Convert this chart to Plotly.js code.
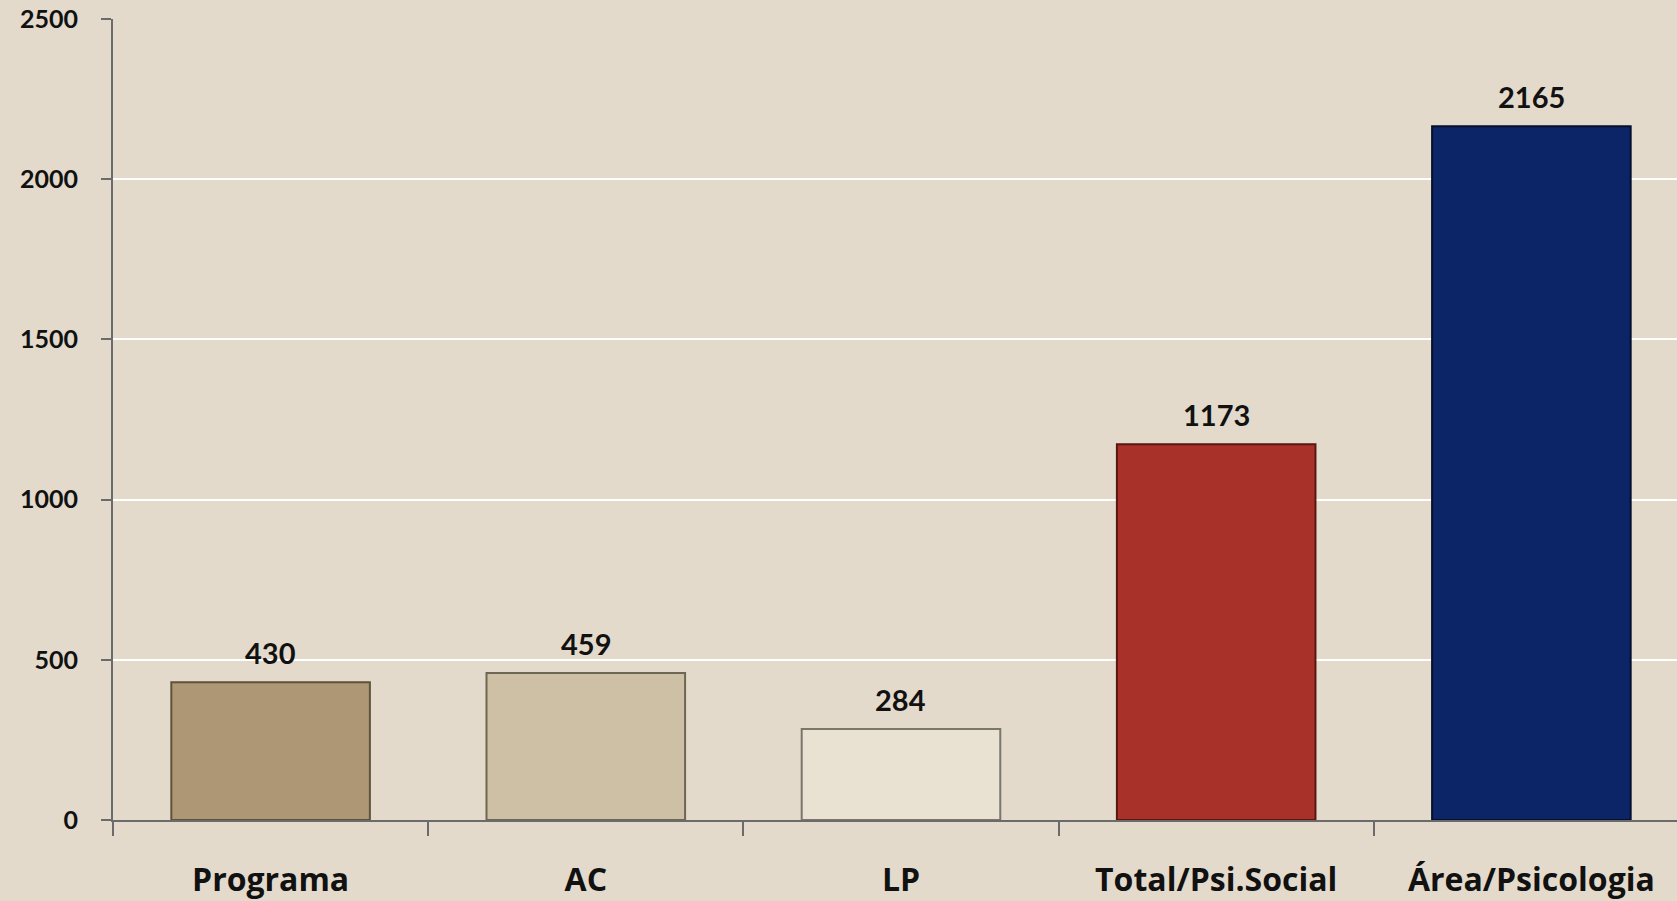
<!DOCTYPE html>
<html>
<head>
<meta charset="utf-8">
<script src="https://cdn.plot.ly/plotly-3.0.1.min.js"></script>
<style>
  html, body { margin: 0; padding: 0; background: #e3dacb; }
  #chart { width: 1677px; height: 901px; }
</style>
</head>
<body>
<div id="chart"></div>
<script>
const categories = ["Programa", "AC", "LP", "Total/Psi.Social", "Área/Psicologia"];
const values = [430, 459, 284, 1173, 2165];
const barColors = ["#ae9775", "#cec0a4", "#e9e2d3", "#a8322a", "#0b2566"];
const edgeColors = ["#5e523d", "#6e6654", "#7a766c", "#5a1712", "#04102e"];
const yTicks = [0, 500, 1000, 1500, 2000, 2500];

const trace = {
  type: "bar",
  x: categories,
  y: values,
  width: 0.63,
  marker: { color: barColors, line: { color: edgeColors, width: 2 } },
  hoverinfo: "skip"
};

const valueLabels = categories.map((c, i) => ({
  x: c,
  y: values[i],
  xref: "x",
  yref: "y",
  text: String(values[i]),
  showarrow: false,
  yanchor: "bottom",
  yshift: 10,
  font: { family: "Lato, 'Open Sans', sans-serif", size: 29, color: "#111111", weight: 700 }
}));

const layout = {
  width: 1677,
  height: 901,
  margin: { l: 113, r: 0, t: 19, b: 81 },
  paper_bgcolor: "#e3dacb",
  plot_bgcolor: "#e3dacb",
  showlegend: false,
  annotations: valueLabels,
  xaxis: {
    type: "category",
    range: [-0.5, 4.462],
    showgrid: false,
    showline: true,
    linecolor: "#6b6b6b",
    linewidth: 2,
    ticks: "outside",
    tickson: "boundaries",
    ticklen: 14,
    tickwidth: 2,
    tickcolor: "#6b6b6b",
    ticklabelstandoff: 31,
    tickfont: { family: "'Open Sans', Lato, sans-serif", size: 32, color: "#111111", weight: 700 },
    zeroline: false
  },
  yaxis: {
    range: [0, 2500],
    tickvals: yTicks,
    ticktext: yTicks.map(String),
    showgrid: true,
    gridcolor: "#ffffff",
    gridwidth: 2,
    showline: true,
    linecolor: "#6b6b6b",
    linewidth: 2,
    ticks: "outside",
    ticklen: 10,
    tickwidth: 2,
    tickcolor: "#6b6b6b",
    ticklabelstandoff: 18,
    tickfont: { family: "Lato, 'Open Sans', sans-serif", size: 25, color: "#111111", weight: 700 },
    zeroline: false
  }
};

Plotly.newPlot("chart", [trace], layout, { displayModeBar: false, staticPlot: true });
</script>
</body>
</html>
